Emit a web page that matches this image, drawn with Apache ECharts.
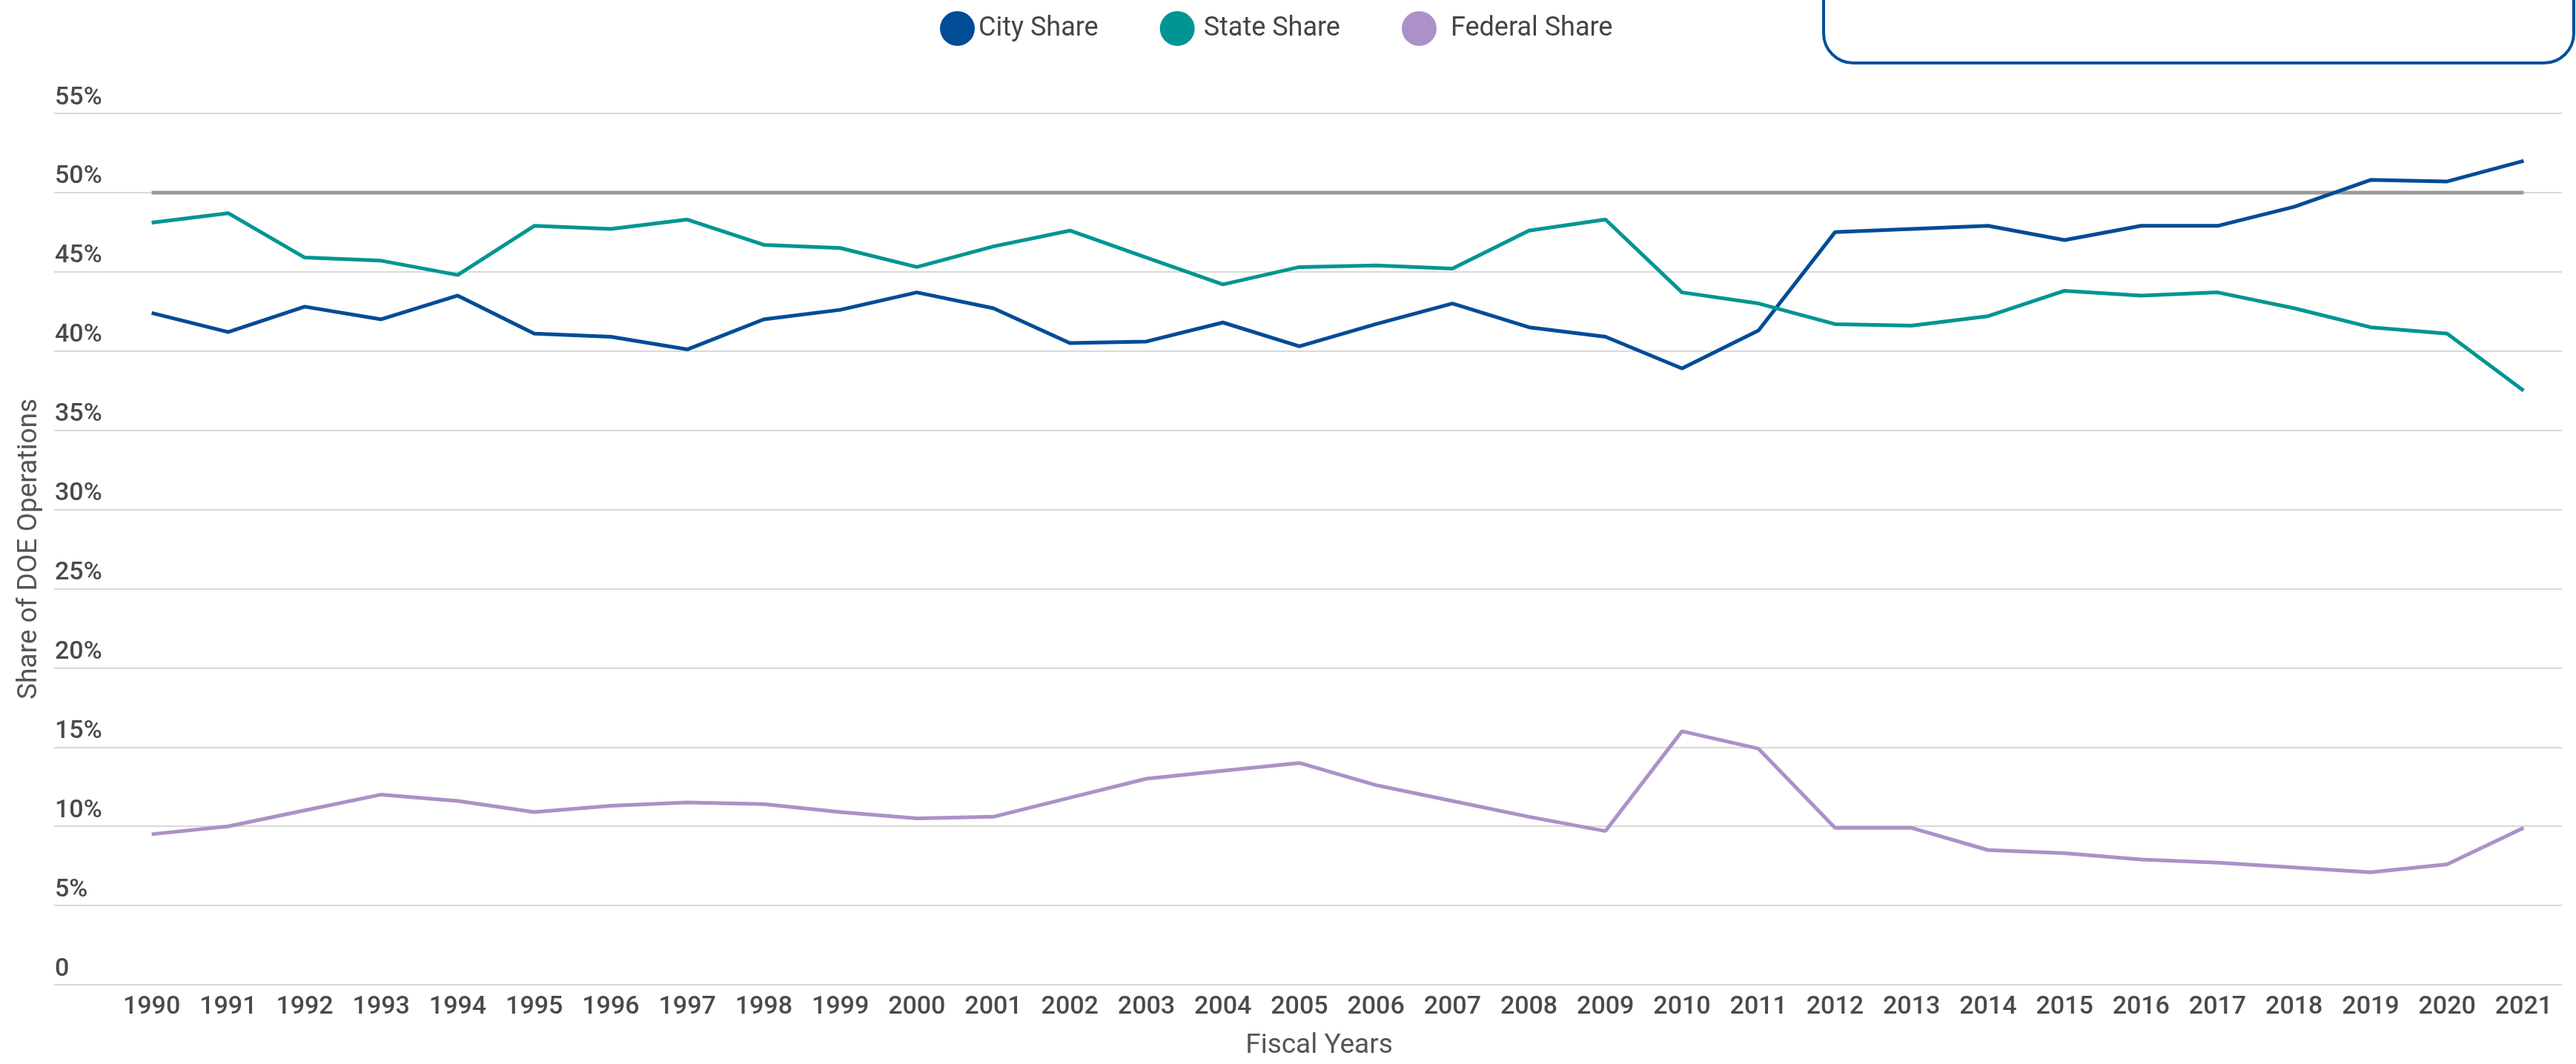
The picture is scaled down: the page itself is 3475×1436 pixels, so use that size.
<!DOCTYPE html>
<html lang="en">
<head>
    <meta charset="UTF-8">
    <title>Share of DOE Operations</title>
    <script src="https://cdn.jsdelivr.net/npm/echarts@6/dist/echarts.min.js"></script>
</head>
<body style="margin:0;">
<div id="main" style="width:3475px;height:1436px;"></div>
<script type="text/javascript">
    // fiscal years on the x axis
    var years = ['1990', '1991', '1992', '1993', '1994', '1995', '1996', '1997', '1998', '1999',
        '2000', '2001', '2002', '2003', '2004', '2005', '2006', '2007', '2008', '2009',
        '2010', '2011', '2012', '2013', '2014', '2015', '2016', '2017', '2018', '2019',
        '2020', '2021'];

    // shares in percent
    var cityShare = [42.4, 41.2, 42.8, 42.0, 43.5, 41.1, 40.9, 40.1, 42.0, 42.6,
        43.7, 42.7, 40.5, 40.6, 41.8, 40.3, 41.7, 43.0, 41.5, 40.9,
        38.9, 41.3, 47.5, 47.7, 47.9, 47.0, 47.9, 47.9, 49.1, 50.8,
        50.7, 52.0];
    var stateShare = [48.1, 48.7, 45.9, 45.7, 44.8, 47.9, 47.7, 48.3, 46.7, 46.5,
        45.3, 46.6, 47.6, 45.9, 44.2, 45.3, 45.4, 45.2, 47.6, 48.3,
        43.7, 43.0, 41.7, 41.6, 42.2, 43.8, 43.5, 43.7, 42.7, 41.5,
        41.1, 37.5];
    var federalShare = [9.5, 10.0, 11.0, 12.0, 11.6, 10.9, 11.3, 11.5, 11.4, 10.9,
        10.5, 10.6, 11.8, 13.0, 13.5, 14.0, 12.6, 11.6, 10.6, 9.7,
        16.0, 14.9, 9.9, 9.9, 8.5, 8.3, 7.9, 7.7, 7.4, 7.1,
        7.6, 9.9];
    // 50% reference line
    var halfLine = years.map(function () { return 50; });

    var yMin = 0, yMax = 55, yStep = 5;

    var labelFont = 'Roboto, "Noto Sans", sans-serif';

    var myChart = echarts.init(document.getElementById('main'));

    var option = {
        backgroundColor: '#ffffff',
        animation: false,
        textStyle: {fontFamily: labelFont},
        legend: {
            data: [
                {name: 'City Share'},
                {name: 'State Share', textStyle: {padding: [6, 14, 0, 7]}},
                {name: 'Federal Share', textStyle: {padding: [0, 0, 0, 14]}}
            ],
            icon: 'circle',
            itemWidth: 47,
            itemHeight: 47,
            itemGap: 83,
            left: 1263,
            top: 10,
            textStyle: {fontSize: 36, color: '#444444', fontFamily: labelFont}
        },
        grid: [
            // wide grid: gridlines + y labels
            {left: 73, right: 19, top: 153, bottom: 107},
            // plot grid: the lines
            {left: 153, right: 19, top: 153, bottom: 107}
        ],
        xAxis: [
            {gridIndex: 0, type: 'value', min: 0, max: 1, show: false},
            {
                gridIndex: 1,
                type: 'category',
                data: years,
                boundaryGap: true,
                axisLine: {show: false},
                axisTick: {show: false},
                axisLabel: {
                    fontSize: 34,
                    fontWeight: 500,
                    color: '#4a4a4a',
                    margin: 13,
                    interval: 0,
                    fontFamily: labelFont
                },
                name: 'Fiscal Years',
                nameLocation: 'middle',
                nameGap: 64,
                nameTextStyle: {fontSize: 37, color: '#555555', padding: [0, 50, 0, 0], fontFamily: labelFont}
            }
        ],
        yAxis: [
            {
                gridIndex: 0,
                type: 'value',
                min: yMin,
                max: yMax,
                interval: yStep,
                axisLine: {show: false},
                axisTick: {show: false},
                splitLine: {lineStyle: {color: '#d9d9d9', width: 2}},
                axisLabel: {
                    inside: true,
                    align: 'left',
                    verticalAlign: 'bottom',
                    margin: 1,
                    padding: [0, 0, 4, 0],
                    fontSize: 34,
                    fontWeight: 500,
                    color: '#4a4a4a',
                    fontFamily: labelFont,
                    formatter: function (v) { return v === 0 ? '0' : v + '%'; }
                },
                name: 'Share of DOE Operations',
                nameLocation: 'middle',
                nameGap: 15,
                nameTextStyle: {fontSize: 37, color: '#555555', fontFamily: labelFont}
            },
            {
                gridIndex: 1,
                type: 'value',
                min: yMin,
                max: yMax,
                interval: yStep,
                show: false,
                splitLine: {show: false}
            }
        ],
        graphic: [{
            type: 'rect',
            shape: {x: 2460, y: -60, width: 1012, height: 145, r: 40},
            style: {fill: 'none', stroke: '#004f9c', lineWidth: 4}
        }],
        series: [
            {
                name: '50%',
                type: 'line',
                xAxisIndex: 1,
                yAxisIndex: 1,
                data: halfLine,
                showSymbol: false,
                lineStyle: {color: '#999999', width: 5},
                itemStyle: {color: '#999999'},
                z: 1
            },
            {
                name: 'City Share',
                type: 'line',
                xAxisIndex: 1,
                yAxisIndex: 1,
                data: cityShare,
                showSymbol: false,
                lineStyle: {color: '#004c97', width: 5},
                itemStyle: {color: '#004c97'},
                z: 3
            },
            {
                name: 'State Share',
                type: 'line',
                xAxisIndex: 1,
                yAxisIndex: 1,
                data: stateShare,
                showSymbol: false,
                lineStyle: {color: '#009593', width: 5},
                itemStyle: {color: '#009593'},
                z: 3
            },
            {
                name: 'Federal Share',
                type: 'line',
                xAxisIndex: 1,
                yAxisIndex: 1,
                data: federalShare,
                showSymbol: false,
                lineStyle: {color: '#ab91c8', width: 5},
                itemStyle: {color: '#ab91c8'},
                z: 3
            }
        ]
    };

    myChart.setOption(option);
</script>
</body>
</html>
